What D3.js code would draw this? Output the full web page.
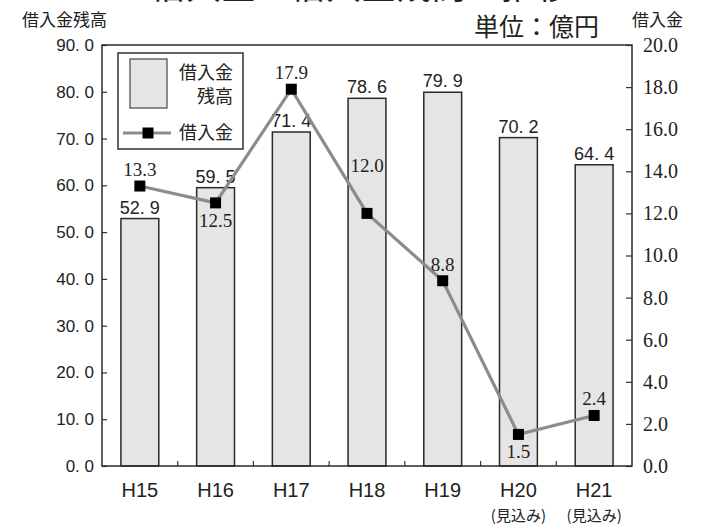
<!DOCTYPE html>
<html>
<head>
<meta charset="utf-8">
<script src="https://cdn.jsdelivr.net/npm/d3@7"></script>
<style>
  body { margin: 0; background: #fff; }
  svg { display: block; }
</style>
</head>
<body>
<div id="chart"></div>
<script>
// chart data
const years = ["H15", "H16", "H17", "H18", "H19", "H20", "H21"];
const yearNotes = ["", "", "", "", "", "(見込み)", "(見込み)"];
const balance = [52.9, 59.5, 71.4, 78.6, 79.9, 70.2, 64.4];   // 借入金残高 (bars, left axis)
const borrowing = [13.3, 12.5, 17.9, 12.0, 8.8, 1.5, 2.4];    // 借入金 (line, right axis)
const labelSide = ["above", "below", "above", "high", "above", "below", "above"];
const leftTicks = [0, 10, 20, 30, 40, 50, 60, 70, 80, 90];
const rightTicks = [0, 2, 4, 6, 8, 10, 12, 14, 16, 18, 20];

const W = 706, H = 526;
const margin = { top: 45, right: 74, bottom: 60, left: 102 };
const plotW = W - margin.left - margin.right,
    plotH = H - margin.top - margin.bottom;

const gothic = "'Liberation Sans', Arial, sans-serif";
const serif = "'Liberation Serif', 'Times New Roman', serif";
const jp = "'Noto Sans CJK JP', 'Noto Sans', sans-serif";

const svg = d3.select("#chart")
    .append("svg")
    .attr("width", W)
    .attr("height", H);

// title, mostly cut off at the top edge (as in the source image)
svg.append("text")
    .attr("x", 361)
    .attr("y", -1)
    .attr("text-anchor", "middle")
    .style("font-family", jp)
    .style("font-size", "35px")
    .attr("fill", "#222")
    .text("借入金と借入金残高の推移");

svg.append("text")
    .attr("x", 599).attr("y", 36)
    .attr("text-anchor", "end")
    .style("font-family", jp)
    .style("font-size", "25px")
    .attr("fill", "#222")
    .text("単位：億円");

svg.append("text")
    .attr("x", 22).attr("y", 26)
    .style("font-family", jp)
    .style("font-size", "17px")
    .attr("fill", "#222")
    .text("借入金残高");

svg.append("text")
    .attr("x", 632).attr("y", 26)
    .style("font-family", jp)
    .style("font-size", "17px")
    .attr("fill", "#222")
    .text("借入金");

const g = svg.append("g")
    .attr("transform", `translate(${margin.left},${margin.top})`);

// scales
const x = d3.scaleBand().domain(years).range([0, plotW]).padding(0);
const yL = d3.scaleLinear().domain([0, 90]).range([plotH, 0]);
const yR = d3.scaleLinear().domain([0, 20]).range([plotH, 0]);

const barW = x.bandwidth() * 0.5;
const fmtBar = (v) => d3.format(".1f")(v).replace(".", ". ");

// bars
g.selectAll("rect.bar")
    .data(balance)
    .join("rect")
    .attr("class", "bar")
    .attr("x", (d, i) => x(years[i]) + (x.bandwidth() - barW) / 2)
    .attr("y", (d) => yL(d))
    .attr("width", barW)
    .attr("height", (d) => plotH - yL(d))
    .attr("fill", "#e5e5e5")
    .attr("stroke", "#2a2a2a")
    .attr("stroke-width", 1.5);

// bar value labels
g.selectAll("text.barlab")
    .data(balance)
    .join("text")
    .attr("class", "barlab")
    .attr("x", (d, i) => x(years[i]) + x.bandwidth() / 2)
    .attr("y", (d) => yL(d) - 5)
    .attr("text-anchor", "middle")
    .style("font-family", gothic)
    .style("font-size", "18px")
    .attr("fill", "#222")
    .text(fmtBar);

// left axis
const axL = g.append("g")
    .call(d3.axisLeft(yL).tickValues(leftTicks).tickSize(-5).tickPadding(8)
        .tickFormat(fmtBar));
axL.select(".domain").remove();
axL.selectAll("line").attr("stroke", "#333").attr("stroke-width", 1.2);
axL.selectAll("text")
    .style("font-family", gothic)
    .style("font-size", "17px")
    .attr("fill", "#222");

// right axis
const axR = g.append("g")
    .attr("transform", `translate(${plotW},0)`)
    .call(d3.axisRight(yR).tickValues(rightTicks).tickSize(-6).tickPadding(11)
        .tickFormat(d3.format(".1f")));
axR.select(".domain").remove();
axR.selectAll("line").attr("stroke", "#333").attr("stroke-width", 1.2);
axR.selectAll("text")
    .style("font-family", serif)
    .style("font-size", "20px")
    .attr("fill", "#222");

// bottom axis: ticks sit on category boundaries, pointing up
const bounds = years.slice(1).map((d) => x(d));
g.selectAll("line.xtick")
    .data(bounds)
    .join("line")
    .attr("class", "xtick")
    .attr("x1", (d) => d).attr("x2", (d) => d)
    .attr("y1", plotH).attr("y2", plotH - 5)
    .attr("stroke", "#333")
    .attr("stroke-width", 1.2);

g.selectAll("text.xlab")
    .data(years)
    .join("text")
    .attr("class", "xlab")
    .attr("x", (d) => x(d) + x.bandwidth() / 2)
    .attr("y", plotH + 31)
    .attr("text-anchor", "middle")
    .style("font-family", gothic)
    .style("font-size", "20px")
    .attr("fill", "#222")
    .text((d) => d);

g.selectAll("text.xnote")
    .data(yearNotes)
    .join("text")
    .attr("class", "xnote")
    .attr("x", (d, i) => x(years[i]) + x.bandwidth() / 2)
    .attr("y", plotH + 55)
    .attr("text-anchor", "middle")
    .style("font-family", jp)
    .style("font-size", "15px")
    .attr("fill", "#222")
    .text((d) => d);

// plot frame
g.append("rect")
    .attr("width", plotW)
    .attr("height", plotH)
    .attr("fill", "none")
    .attr("stroke", "#2a2a2a")
    .attr("stroke-width", 1.5);

// line for 借入金
const line = d3.line()
    .x((d, i) => x(years[i]) + x.bandwidth() / 2)
    .y((d) => yR(d));

g.append("path")
    .datum(borrowing)
    .attr("fill", "none")
    .attr("stroke", "#8c8c8c")
    .attr("stroke-width", 3.2)
    .attr("d", line);

const mk = 11;
g.selectAll("rect.marker")
    .data(borrowing)
    .join("rect")
    .attr("class", "marker")
    .attr("x", (d, i) => x(years[i]) + x.bandwidth() / 2 - mk / 2)
    .attr("y", (d) => yR(d) - mk / 2)
    .attr("width", mk)
    .attr("height", mk)
    .attr("fill", "#000");

// line value labels
const labelDy = { above: -10, below: 24, high: -41 };
g.selectAll("text.linelab")
    .data(borrowing)
    .join("text")
    .attr("class", "linelab")
    .attr("x", (d, i) => x(years[i]) + x.bandwidth() / 2)
    .attr("y", (d, i) => yR(d) + labelDy[labelSide[i]])
    .attr("text-anchor", "middle")
    .style("font-family", serif)
    .style("font-size", "19px")
    .attr("fill", "#222")
    .text((d) => d3.format(".1f")(d));

// legend
const lg = svg.append("g").attr("transform", "translate(118,53)");
lg.append("rect")
    .attr("width", 125).attr("height", 96)
    .attr("fill", "#fff")
    .attr("stroke", "#333")
    .attr("stroke-width", 1.5);
lg.append("rect")
    .attr("x", 12).attr("y", 6)
    .attr("width", 37).attr("height", 49)
    .attr("fill", "#e5e5e5")
    .attr("stroke", "#444")
    .attr("stroke-width", 1.2);
lg.append("text")
    .attr("x", 115).attr("y", 26)
    .attr("text-anchor", "end")
    .style("font-family", jp).style("font-size", "18px").attr("fill", "#222")
    .text("借入金");
lg.append("text")
    .attr("x", 115).attr("y", 50)
    .attr("text-anchor", "end")
    .style("font-family", jp).style("font-size", "18px").attr("fill", "#222")
    .text("残高");
lg.append("line")
    .attr("x1", 5).attr("x2", 53)
    .attr("y1", 80).attr("y2", 80)
    .attr("stroke", "#8c8c8c").attr("stroke-width", 3.2);
lg.append("rect")
    .attr("x", 30 - mk / 2).attr("y", 80 - mk / 2)
    .attr("width", mk).attr("height", mk)
    .attr("fill", "#000");
lg.append("text")
    .attr("x", 115).attr("y", 86)
    .attr("text-anchor", "end")
    .style("font-family", jp).style("font-size", "18px").attr("fill", "#222")
    .text("借入金");
</script>
</body>
</html>
